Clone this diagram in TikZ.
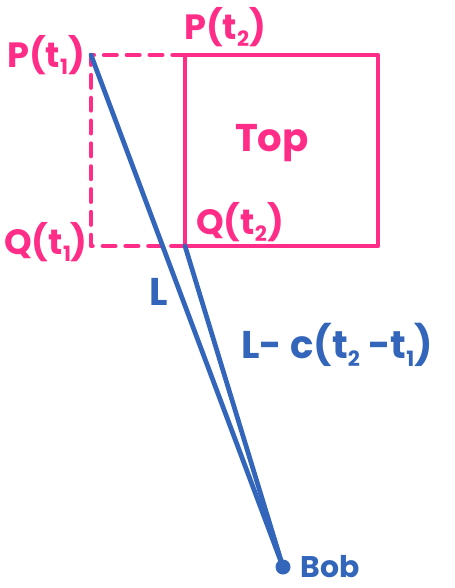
\documentclass[tikz,border=0pt]{standalone}
\usepackage{fontspec}
\setmainfont{Poppins}
\usetikzlibrary{positioning}
\definecolor{penpink}{RGB}{255,45,135}
\definecolor{penblue}{RGB}{51,102,187}
\newcommand{\lowsub}[1]{\raisebox{-0.35ex}{\fontsize{12}{13}\selectfont #1}}

\begin{document}
\begin{tikzpicture}[x=0.02cm, y=-0.02cm,
    pinkline/.style={draw=penpink, line width=2.7pt, line cap=round, line join=round},
    pinkdash/.style={pinkline, dash pattern=on 7pt off 6pt},
    blueline/.style={draw=penblue, line width=2.7pt, line cap=round},
    pinklabel/.style={text=penpink, font=\fontsize{20}{22}\selectfont\bfseries, inner sep=0pt},
    bluelabel/.style={text=penblue, font=\fontsize{22}{24}\selectfont\bfseries, inner sep=0pt}
]
\useasboundingbox (0,0) rectangle (454,588);

% corners of the two positions
\coordinate (p1) at (91,55);
\coordinate (q1) at (91,246);
\coordinate (p2) at (185,55);
\coordinate (q2) at (185,246);
\coordinate (topright) at (378,55);
\coordinate (botright) at (378,246);
\coordinate (bob) at (283,567);

% old position, dashed
\draw[pinkdash] (p2) -- (p1) -- (q1) -- (q2);
% new position
\draw[pinkline] (p2) -- (topright) -- (botright) -- (q2) -- cycle;

% light paths to Bob
\draw[blueline] (p1) -- (bob);
\draw[blueline] (q2) -- (bob);
\fill[penblue] (bob) circle (7.5);

% labels
\node[pinklabel] (lp1) at (46,55) {P(t\lowsub{1})};
\node[pinklabel] (lp2) at (225,27) {P(t\lowsub{2})};
\node[pinklabel, font=\fontsize{22}{24}\selectfont\bfseries] (ltop) at (272,143) {Top};
\node[pinklabel] (lq2) at (240,222) {Q(t\lowsub{2})};
\node[pinklabel] (lq1) at (46,242) {Q(t\lowsub{1})};
\node[bluelabel] (ll) at (159,292) {L};
\node[bluelabel] (lshort) at (337,345) {L- c(t\lowsub{2} -t\lowsub{1})};
\node[bluelabel, font=\fontsize{17}{18}\selectfont\bfseries, right=10pt of bob] (lbob) {Bob};
\end{tikzpicture}
\end{document}
